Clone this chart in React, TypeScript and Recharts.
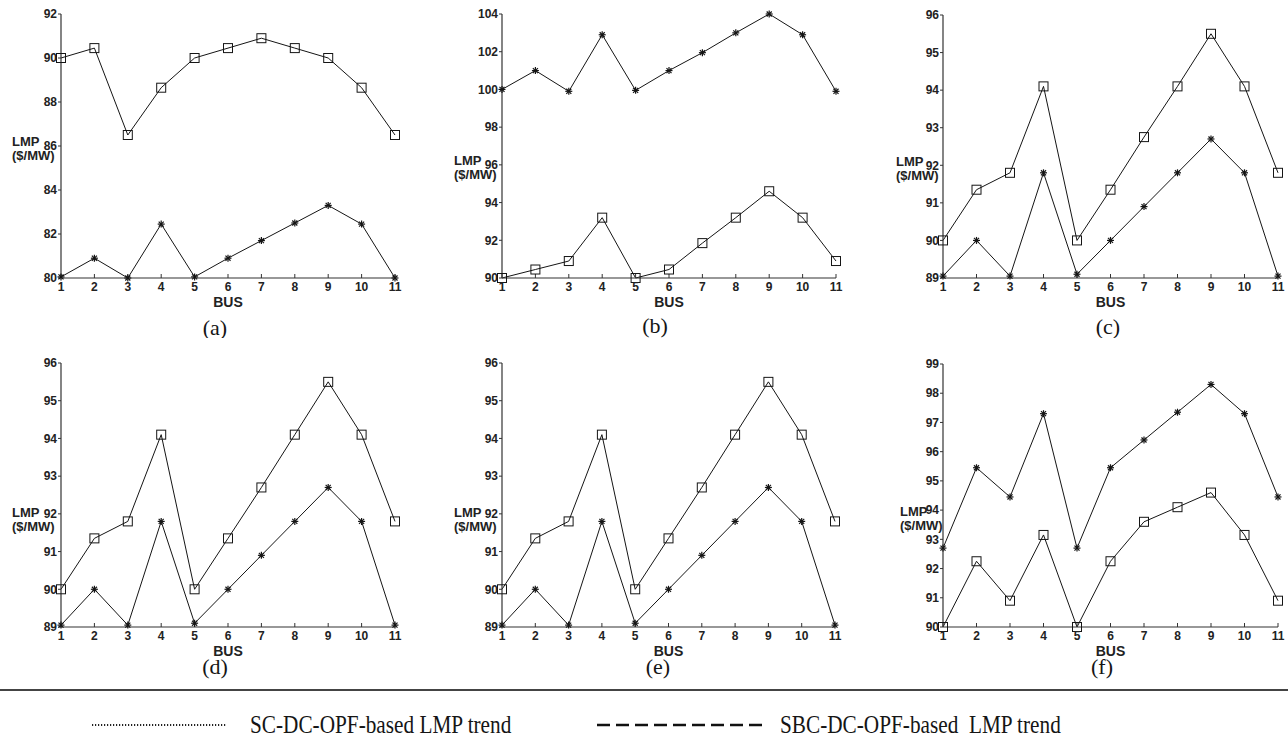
import React from 'react';
import { LineChart, Line, XAxis, YAxis, Label } from 'recharts';

const buses = [1, 2, 3, 4, 5, 6, 7, 8, 9, 10, 11];

// (a)
const aSquare = [90, 90.45, 86.5, 88.65, 90, 90.45, 90.9, 90.45, 90, 88.65, 86.5];
const aStar = [80.05, 80.9, 80, 82.45, 80.05, 80.9, 81.7, 82.5, 83.3, 82.45, 80];
const aTicks = [80, 82, 84, 86, 88, 90, 92];

// (b)
const bSquare = [90, 90.45, 90.9, 93.2, 90, 90.45, 91.85, 93.2, 94.6, 93.2, 90.9];
const bStar = [100, 101, 99.9, 102.9, 99.95, 101, 101.95, 103, 104, 102.9, 99.9];
const bTicks = [90, 92, 94, 96, 98, 100, 102, 104];

// (c)
const cSquare = [90, 91.35, 91.8, 94.1, 90, 91.35, 92.75, 94.1, 95.5, 94.1, 91.8];
const cStar = [89.05, 90, 89.05, 91.8, 89.1, 90, 90.9, 91.8, 92.7, 91.8, 89.05];

// (d)
const dSquare = [90, 91.35, 91.8, 94.1, 90, 91.35, 92.7, 94.1, 95.5, 94.1, 91.8];
const dStar = [89.05, 90, 89.05, 91.8, 89.1, 90, 90.9, 91.8, 92.7, 91.8, 89.05];

// (e)
const eSquare = [90, 91.35, 91.8, 94.1, 90, 91.35, 92.7, 94.1, 95.5, 94.1, 91.8];
const eStar = [89.05, 90, 89.05, 91.8, 89.1, 90, 90.9, 91.8, 92.7, 91.8, 89.05];
const cdeTicks = [89, 90, 91, 92, 93, 94, 95, 96];

// (f)
const fSquare = [90, 92.25, 90.9, 93.15, 90, 92.25, 93.6, 94.1, 94.6, 93.15, 90.9];
const fStar = [92.7, 95.45, 94.45, 97.3, 92.7, 95.45, 96.4, 97.35, 98.3, 97.3, 94.45];
const fTicks = [90, 91, 92, 93, 94, 95, 96, 97, 98, 99];

const legendLabels = ['SC-DC-OPF-based LMP trend', 'SBC-DC-OPF-based  LMP trend'];

const INK = '#151515';
const SANS = '"Liberation Sans", Arial, sans-serif';
const SERIF = '"Liberation Serif", "Times New Roman", serif';

// page geometry of each panel's plot box
const panels = [
  { caption: '(a)', square: aSquare, star: aStar, ticks: aTicks, x1: 61, x11: 395, top: 14, bottom: 278, lmp: [12, 141], cap: [215, 327] },
  { caption: '(b)', square: bSquare, star: bStar, ticks: bTicks, x1: 502, x11: 836, top: 14, bottom: 278, lmp: [454, 160], cap: [655, 325] },
  { caption: '(c)', square: cSquare, star: cStar, ticks: cdeTicks, x1: 943, x11: 1278, top: 15, bottom: 278, lmp: [896, 161], cap: [1108, 326] },
  { caption: '(d)', square: dSquare, star: dStar, ticks: cdeTicks, x1: 61, x11: 395, top: 363, bottom: 627, lmp: [12, 512], cap: [215, 666] },
  { caption: '(e)', square: eSquare, star: eStar, ticks: cdeTicks, x1: 502, x11: 835, top: 363, bottom: 627, lmp: [454, 512], cap: [658, 666] },
  { caption: '(f)', square: fSquare, star: fStar, ticks: fTicks, x1: 943, x11: 1278, top: 364, bottom: 627, lmp: [900, 511], cap: [1102, 666] },
];

const Y_W = 50;
const X_H = 60;
const PAD_T = 10;
const PAD_R = 10;

const squareDot = (p: any) => {
  if (p.cx == null || p.cy == null) return <g key={`sq-${p.index}`} />;
  return (
    <rect key={`sq-${p.index}`} x={p.cx - 4.5} y={p.cy - 4.5} width={9} height={9}
      fill="none" stroke={INK} strokeWidth={1} />
  );
};

const starDot = (p: any) => {
  if (p.cx == null || p.cy == null) return <g key={`st-${p.index}`} />;
  const r = 3.5;
  const d = r * 0.72;
  return (
    <g key={`st-${p.index}`} stroke={INK} strokeWidth={1.2}>
      <line x1={p.cx - r} y1={p.cy} x2={p.cx + r} y2={p.cy} />
      <line x1={p.cx} y1={p.cy - r} x2={p.cx} y2={p.cy + r} />
      <line x1={p.cx - d} y1={p.cy - d} x2={p.cx + d} y2={p.cy + d} />
      <line x1={p.cx - d} y1={p.cy + d} x2={p.cx + d} y2={p.cy - d} />
    </g>
  );
};

function Panel({ cfg }: { cfg: any }) {
  const left = cfg.x1 - Y_W;
  const top = cfg.top - PAD_T;
  const width = cfg.x11 - cfg.x1 + Y_W + PAD_R;
  const height = cfg.bottom - cfg.top + PAD_T + X_H;
  const data = buses.map((b, i) => ({ bus: b, square: cfg.square[i], star: cfg.star[i] }));
  const ticks = cfg.ticks;
  const midX = (cfg.x1 + cfg.x11) / 2 - left;

  return (
    <div style={{ position: 'absolute', left, top }}>
      <LineChart width={width} height={height} data={data}
        margin={{ top: PAD_T, right: PAD_R, left: 0, bottom: 0 }}>
        <XAxis dataKey="bus" type="number" domain={[1, 11]} ticks={buses} interval={0}
          height={X_H} axisLine={{ stroke: '#333', strokeWidth: 1.2 }} tickLine={{ stroke: '#333' }}
          tickSize={-4} tickMargin={8}
          tick={{ fontSize: 12, fontWeight: 700, fill: '#222', fontFamily: SANS }}>
          <Label content={() => (
            <g>
              <text x={midX} y={cfg.bottom + 24 - top} textAnchor="middle" dominantBaseline="central"
                fontSize={14} fontWeight={700} fill="#222" fontFamily={SANS}>BUS</text>
              <text x={cfg.cap[0] - left} y={cfg.cap[1] - top} textAnchor="middle" dominantBaseline="central"
                fontSize={22} fill={INK} fontFamily={SERIF}>{cfg.caption}</text>
            </g>
          )} />
        </XAxis>
        <YAxis type="number" domain={[ticks[0], ticks[ticks.length - 1]]} ticks={ticks} interval={0}
          width={Y_W} axisLine={{ stroke: '#333', strokeWidth: 1.2 }} tickLine={{ stroke: '#333' }}
          tickSize={3} tickMargin={1}
          tick={{ fontSize: 12, fontWeight: 700, fill: '#222', fontFamily: SANS }}>
          <Label content={() => (
            <g fontSize={13} fontWeight={700} fill="#222" fontFamily={SANS}>
              <text x={cfg.lmp[0] - left} y={cfg.lmp[1] - top} dominantBaseline="central">LMP</text>
              <text x={cfg.lmp[0] - left} y={cfg.lmp[1] + 14 - top} dominantBaseline="central">($/MW)</text>
            </g>
          )} />
        </YAxis>
        <Line type="linear" dataKey="square" stroke={INK} strokeWidth={1} dot={squareDot}
          activeDot={false} isAnimationActive={false} />
        <Line type="linear" dataKey="star" stroke={INK} strokeWidth={1} dot={starDot}
          activeDot={false} isAnimationActive={false} />
      </LineChart>
    </div>
  );
}

export default function App() {
  const legendText = {
    position: 'absolute' as const, top: 710, fontFamily: SERIF, fontSize: 25, color: INK,
    whiteSpace: 'pre' as const, transform: 'scaleX(0.85)', transformOrigin: 'left center', lineHeight: '30px',
  };
  return (
    <div style={{ position: 'absolute', left: 0, top: 0, width: 1288, height: 738, background: '#fff', overflow: 'hidden' }}>
      {panels.map((p) => <Panel key={p.caption} cfg={p} />)}
      <div style={{ position: 'absolute', left: 0, top: 689, width: 1288, height: 1.5, background: '#444' }} />
      <svg style={{ position: 'absolute', left: 0, top: 715 }} width={800} height={20}>
        <line x1={92} y1={10} x2={227} y2={10} stroke="#222" strokeWidth={2} strokeDasharray="1.2 1.8" />
        <line x1={597} y1={10} x2={765} y2={10} stroke="#111" strokeWidth={2.5} strokeDasharray="13 6" />
      </svg>
      <div style={{ ...legendText, left: 250 }}>{legendLabels[0]}</div>
      <div style={{ ...legendText, left: 780 }}>{legendLabels[1]}</div>
    </div>
  );
}
